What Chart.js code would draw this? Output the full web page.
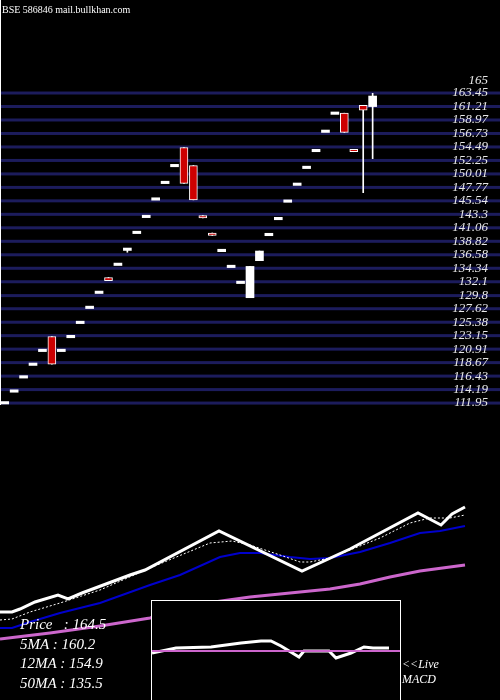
<!DOCTYPE html>
<html><head><meta charset="utf-8">
<script src="https://cdn.jsdelivr.net/npm/chart.js@4"></script>
<style>
body{margin:0;background:#000;width:500px;height:700px;overflow:hidden;position:relative;font-family:"Liberation Serif",serif;}
#main{position:absolute;left:0;top:0;width:500px;height:700px;}
#macdBox{position:absolute;left:151px;top:600px;width:248px;height:110px;border:1px solid #fff;background:#000;}
.t{position:absolute;color:#fff;font-style:italic;}
</style></head><body>
<div id="main"><canvas id="c" width="500" height="700"></canvas></div>
<div style="position:absolute;left:0;top:0;width:1px;height:405px;background:#fff"></div>
<div id="macdBox"><canvas id="m" width="248" height="110"></canvas></div>
<div class="t" style="left:2px;top:4px;font-size:10px;font-style:normal">BSE 586846 mail.bullkhan.com</div>
<div class="t" style="left:20px;top:615px;font-size:15px;line-height:19.5px">Price&nbsp;&nbsp;&nbsp;: 164.5<br>5MA : 160.2<br>12MA : 154.9<br>50MA : 135.5</div>
<div class="t" style="left:402px;top:657px;font-size:12px;line-height:15px">&lt;&lt;Live<br>MACD</div>
<script>
const opens  = [112.0,113.95,116.3,118.4,120.7,123.0,120.7,123.0,125.35,127.85,130.35,132.8,135.0,137.5,140.3,142.95,145.85,148.6,151.4,154.4,151.4,143.1,140.2,137.3,134.65,132.0,129.45,135.6,139.95,142.6,145.5,148.3,151.1,153.9,157.1,160.1,160.1,154.1,161.4,161.2];
const closes = [112.0,113.95,116.3,118.4,120.7,118.4,120.7,123.0,125.35,127.85,130.35,132.3,135.0,137.5,140.3,142.95,145.85,148.6,151.4,148.45,145.7,142.7,139.8,137.3,134.65,132.0,134.65,137.2,139.95,142.6,145.5,148.3,151.1,153.9,157.1,160.1,156.9,153.7,160.6,162.95];
const highs  = [112.0,113.95,116.3,118.4,120.7,123.0,120.7,123.0,125.35,127.85,130.35,132.8,135.0,137.5,140.3,142.95,145.85,148.6,151.4,154.4,151.4,143.1,140.2,137.3,134.65,132.0,134.65,137.2,139.95,142.6,145.5,148.3,151.1,153.9,157.1,160.1,160.1,154.1,161.4,163.4];
const lows   = [112.0,113.95,116.3,118.4,120.7,118.4,120.7,123.0,125.35,127.85,130.35,132.3,135.0,137.0,140.3,142.95,145.85,148.6,151.4,148.45,145.7,142.7,139.8,137.3,134.65,132.0,129.45,135.6,139.95,142.6,145.5,148.3,151.1,153.9,157.1,160.1,156.9,153.7,146.9,152.55];
const priceTicks = [165,163.45,161.21,158.97,156.73,154.49,152.25,150.01,147.77,145.54,143.3,141.06,138.82,136.58,134.34,132.1,129.8,127.62,125.38,123.15,120.91,118.67,116.43,114.19,111.95];

const priceLineX = [0,1.2,2,3.5,5.8,6.8,8.2,13,14.5,21.9,30.2,35,41.8,44.1,45.2,46.5];
const priceLineY = [112,112,113.5,117,120.5,118.5,121.5,130.5,133,152.5,132.5,143.5,161.5,155.5,161,164.5];
const ma5X = [0,1.2,3,6,10,15,21,23.2,25,28,30,31,33,38,41,43,45,46.5];
const ma5Y = [108,108.5,112,116.5,123,134,146.5,147.5,145.5,140.5,137,137,139,149,156.5,159,159,160.5];
const ma12X = [0,1.2,3,6,10,15,18,22,24,26,29,31,33,36,39,42,44,46.5];
const ma12Y = [104,104,107,111.5,116.5,125.5,130.5,139.5,141.5,141.5,139.5,138.5,139,142,146.5,151.5,152.5,155];
const ma50X = [0,5,10,15,20,25,30,33,36,39,42,46.5];
const ma50Y = [98.5,101.5,105,109,116,119.5,122,123.5,126,129.5,132.5,135.5];

const macdX = [0,24,59,89,109,119,129,147,152,177,184,199,212,221,237];
const macdY = [-0.2,0.3,0.4,0.8,1.0,1.0,0.5,-0.6,0,0,-0.7,-0.2,0.4,0.3,0.3];
const macdSignal = [0,0];

const N = 53;
const labels = Array.from({length:N},(_,i)=>i);
const bodies = opens.map((o,i)=>{const c=closes[i]; if(Math.abs(o-c)<0.3){const v=(o+c)/2;return [v-0.2,v+0.2];} return [Math.min(o,c),Math.max(o,c)];});
const wicks = highs.map((h,i)=>[lows[i],h]);
const isRed = opens.map((o,i)=> closes[i]<o-0.001);
const pts = (xs,ys)=>xs.map((x,i)=>({x:x,y:ys[i]}));

const gridPlugin = {
  id:'priceGrid',
  beforeDatasetsDraw(chart){
    const ctx=chart.ctx, s=chart.scales.y;
    ctx.save();
    priceTicks.forEach(v=>{
      const y=s.getPixelForValue(v);
      if(v!==165){ctx.fillStyle='#1c1c5c';ctx.fillRect(0,y-1.5,500,3);}
    });
    ctx.restore();
  },
  afterDatasetsDraw(chart){
    const ctx=chart.ctx, s=chart.scales.y;
    ctx.save();
    ctx.font='italic 13px "Liberation Serif", serif';
    ctx.fillStyle='#e8e8e8';ctx.textAlign='right';ctx.textBaseline='middle';
    priceTicks.forEach(v=>{ctx.fillText(String(v),488,s.getPixelForValue(v)+(v===165?-3:0));});
    ctx.restore();
  }
};

new Chart(document.getElementById('c'),{
  type:'bar',
  data:{labels:labels,datasets:[
    {type:'line',order:6,data:pts(ma50X,ma50Y),xAxisID:'x2',yAxisID:'yMA',borderColor:'#cc66cc',borderWidth:3,pointRadius:0,tension:0},
    {type:'line',order:5,data:pts(ma12X,ma12Y),xAxisID:'x2',yAxisID:'yMA',borderColor:'#0000cc',borderWidth:2,pointRadius:0,tension:0},
    {type:'line',order:4,data:pts(ma5X,ma5Y),xAxisID:'x2',yAxisID:'yMA',borderColor:'#ffffff',borderWidth:1,borderDash:[2,2],pointRadius:0,tension:0},
    {type:'line',order:3,data:pts(priceLineX,priceLineY),xAxisID:'x2',yAxisID:'yMA',borderColor:'#ffffff',borderWidth:3,pointRadius:0,tension:0},
    {order:2,data:wicks,xAxisID:'x',yAxisID:'y',backgroundColor:'#ffffff',barThickness:1,grouped:false},
    {order:1,data:bodies,xAxisID:'x',yAxisID:'y',backgroundColor:isRed.map(r=>r?'#cc0000':'#ffffff'),borderColor:'#ffffff',borderWidth:isRed.map(r=>r?1:0),borderSkipped:false,barThickness:isRed.map(r=>r?8:7),grouped:false}
  ]},
  options:{
    responsive:false,animation:false,devicePixelRatio:1,
    layout:{padding:0},
    plugins:{legend:{display:false},tooltip:{enabled:false}},
    scales:{
      x:{type:'category',display:false,offset:true},
      x2:{type:'linear',display:false,offset:false,min:0,max:50},
      yMA:{type:'linear',display:false,min:68,max:418},
      y:{type:'linear',display:false,min:62.63,max:178.9}
    }
  },
  plugins:[gridPlugin]
});

new Chart(document.getElementById('m'),{
  type:'line',
  data:{datasets:[
    {data:[{x:0,y:macdSignal[0]},{x:248,y:macdSignal[1]}],borderColor:'#cc66cc',borderWidth:2,pointRadius:0},
    {data:pts(macdX,macdY),borderColor:'#ffffff',borderWidth:3,pointRadius:0,tension:0}
  ]},
  options:{responsive:false,animation:false,devicePixelRatio:1,layout:{padding:0},
    plugins:{legend:{display:false},tooltip:{enabled:false}},
    scales:{x:{type:'linear',display:false,min:0,max:248},y:{display:false,min:-6,max:5}}}
});
</script>
</body></html>
